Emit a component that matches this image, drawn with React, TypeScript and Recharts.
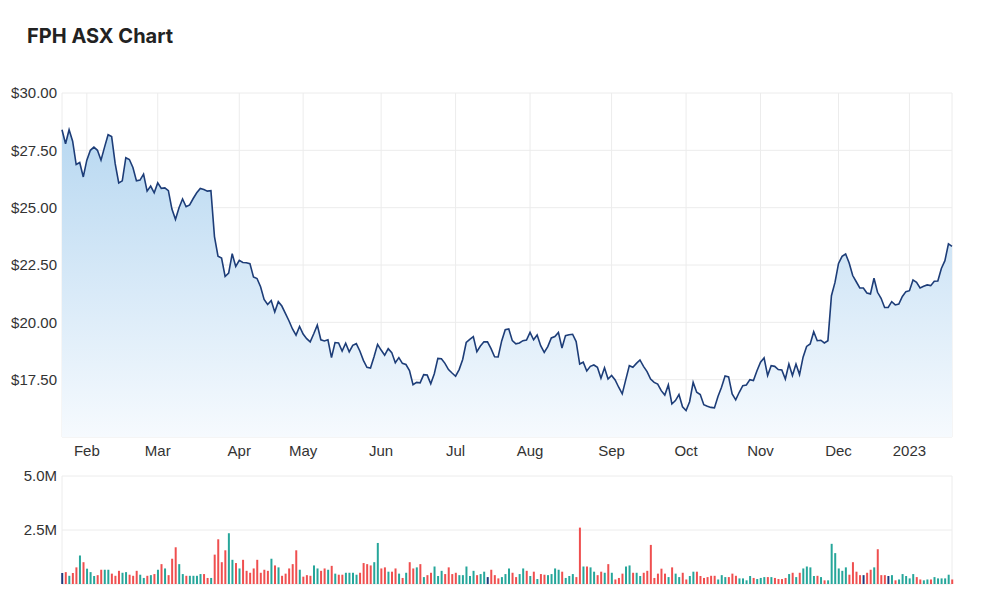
import { AreaChart, Area, BarChart, Bar, Cell, XAxis, YAxis, CartesianGrid } from 'recharts';

// FPH daily closes, 20 Jan 2022 - 19 Jan 2023 (one value per trading day)
const closes = [
  28.40, 27.79, 28.40, 27.90, 26.88, 26.97, 26.34, 27.07, 27.50, 27.64,
  27.50, 27.07, 27.64, 28.18, 28.10, 26.92, 26.08, 26.17, 27.18, 27.10,
  26.75, 26.17, 26.20, 26.46, 25.72, 25.94, 25.65, 26.08, 25.84, 25.86,
  25.74, 24.94, 24.49, 25.00, 25.38, 25.04, 25.12, 25.40, 25.65, 25.84,
  25.79, 25.72, 25.74, 23.74, 22.88, 22.80, 22.00, 22.15, 22.99, 22.44,
  22.70, 22.61, 22.60, 22.56, 21.98, 21.91, 21.55, 21.00, 20.78, 20.95,
  20.45, 20.90, 20.71, 20.39, 20.07, 19.71, 19.44, 19.82, 19.49, 19.29,
  19.15, 19.50, 19.88, 19.24, 19.19, 19.24, 18.46, 19.12, 19.10, 18.75,
  19.09, 18.71, 19.00, 19.07, 18.75, 18.34, 18.04, 18.01, 18.50, 19.04,
  18.79, 18.57, 18.85, 18.68, 18.24, 18.46, 18.21, 18.16, 17.90, 17.28,
  17.38, 17.36, 17.72, 17.70, 17.32, 17.76, 18.43, 18.41, 18.21, 17.94,
  17.79, 17.65, 17.94, 18.38, 19.12, 19.26, 19.38, 18.72, 18.97, 19.15,
  19.15, 18.85, 18.50, 18.49, 19.19, 19.68, 19.71, 19.20, 19.06, 19.10,
  19.20, 19.23, 19.56, 19.24, 19.45, 18.98, 18.69, 18.94, 19.32, 19.38,
  19.56, 18.88, 19.42, 19.46, 19.48, 19.16, 18.18, 18.26, 17.88, 18.08,
  18.14, 18.04, 17.56, 18.02, 17.53, 17.68, 17.49, 17.17, 16.88, 17.50,
  18.11, 18.04, 18.21, 18.36, 18.08, 17.85, 17.53, 17.38, 17.31, 17.02,
  16.83, 17.27, 16.44, 16.59, 16.85, 16.32, 16.15, 16.54, 17.38, 16.95,
  16.85, 16.41, 16.34, 16.29, 16.27, 16.77, 17.17, 17.66, 17.62, 16.88,
  16.62, 16.95, 17.24, 17.27, 17.50, 17.46, 17.89, 18.26, 18.45, 17.68,
  18.11, 18.08, 17.94, 17.92, 17.53, 18.18, 17.68, 18.18, 17.72, 18.48,
  18.95, 19.06, 19.59, 19.20, 19.22, 19.10, 19.20, 21.16, 21.74, 22.57,
  22.88, 22.98, 22.59, 22.04, 21.77, 21.50, 21.50, 21.28, 21.24, 21.92,
  21.31, 21.05, 20.65, 20.65, 20.90, 20.76, 20.80, 21.13, 21.34, 21.38,
  21.85, 21.74, 21.50, 21.57, 21.63, 21.60, 21.79, 21.80, 22.35, 22.69,
  23.42, 23.31,
];

// daily volume, millions of shares
const volumesM = [
  0.51, 0.55, 0.38, 0.51, 0.77, 1.32, 1.01, 0.71, 0.55, 0.37,
  0.41, 0.66, 0.66, 0.66, 0.48, 0.38, 0.61, 0.52, 0.55, 0.43,
  0.38, 0.61, 0.43, 0.28, 0.38, 0.41, 0.46, 0.66, 0.92, 0.72,
  0.41, 1.17, 1.70, 0.92, 0.46, 0.38, 0.38, 0.38, 0.38, 0.46,
  0.46, 0.28, 0.28, 1.36, 2.07, 1.01, 1.56, 2.35, 1.12, 0.97,
  0.72, 1.12, 0.61, 0.52, 0.72, 1.12, 0.52, 0.66, 0.61, 1.17,
  0.86, 0.77, 0.38, 0.48, 0.72, 0.92, 1.56, 0.66, 0.34, 0.41,
  0.38, 0.86, 0.72, 0.61, 0.72, 0.66, 0.84, 0.48, 0.43, 0.43,
  0.52, 0.52, 0.52, 0.43, 0.52, 0.97, 0.92, 0.86, 1.01, 1.90,
  0.72, 0.77, 0.57, 0.57, 0.72, 0.48, 0.28, 0.52, 1.01, 0.72,
  0.77, 0.92, 0.32, 0.41, 0.52, 0.81, 0.37, 0.61, 0.46, 0.77,
  0.46, 0.52, 0.41, 0.41, 0.81, 0.37, 0.61, 0.41, 0.46, 0.57,
  0.32, 0.66, 0.41, 0.26, 0.32, 0.46, 0.72, 0.52, 0.32, 0.46,
  0.72, 0.61, 0.37, 0.57, 0.23, 0.46, 0.43, 0.41, 0.46, 0.72,
  0.66, 0.57, 0.28, 0.37, 0.46, 0.32, 2.61, 0.81, 0.81, 0.77,
  0.57, 0.41, 0.57, 0.52, 0.92, 0.52, 0.21, 0.28, 0.48, 0.81,
  0.86, 0.52, 0.52, 0.37, 0.52, 0.61, 1.81, 0.28, 0.48, 0.71,
  0.48, 0.32, 0.77, 0.48, 0.32, 0.52, 0.21, 0.37, 0.57, 0.57,
  0.37, 0.28, 0.32, 0.38, 0.38, 0.21, 0.41, 0.32, 0.32, 0.48,
  0.38, 0.26, 0.26, 0.17, 0.37, 0.28, 0.23, 0.28, 0.32, 0.32,
  0.32, 0.28, 0.23, 0.23, 0.28, 0.46, 0.52, 0.32, 0.52, 0.72,
  0.81, 0.77, 0.37, 0.38, 0.32, 0.17, 0.17, 1.86, 1.43, 0.72,
  0.61, 0.77, 0.43, 1.01, 0.57, 0.41, 0.41, 0.52, 0.66, 0.77,
  1.61, 0.41, 0.41, 0.37, 0.41, 0.17, 0.21, 0.46, 0.37, 0.26,
  0.46, 0.32, 0.21, 0.17, 0.21, 0.21, 0.32, 0.26, 0.26, 0.26,
  0.43, 0.21,
];

// U = closed up, D = closed down, F = unchanged
const dayMoves = (
  'FDUDDUDUUU' + 'DDUUDDDUUD' + 'DDUUDUDUDU' + 'DDDUUDUUUU' + 'DDUDDDDUUD' +
  'UDDDDDDDDU' + 'DUDDDDDUDD' + 'DUUDDUDUDD' + 'UUUUDDDDUU' + 'DDUDDUDUDD' +
  'UDUDDUUUDD' + 'DDUUUUUDUU' + 'FDDDUUUDDU' + 'UDUDUDDUUU' + 'UDUUUDDUDU' +
  'UDDUDUDDDU' + 'UDUUDDDDDD' + 'DUDUUDDUUD' + 'DDDDDUUUDD' + 'DUUUUDUUUD' +
  'UDDDDUDUDU' + 'UUUDUDUUUU' + 'UUDDDDFDDU' + 'DDDFUDUUUU' + 'UDDUUDUUUU' +
  'UD'
).split('');

const monthStarts = [7, 27, 50, 68, 90, 111, 132, 155, 176, 197, 219, 239];
const monthLabels = ['Feb', 'Mar', 'Apr', 'May', 'Jun', 'Jul', 'Aug', 'Sep', 'Oct', 'Nov', 'Dec', '2023'];
const priceTicks = [15, 17.5, 20, 22.5, 25, 27.5, 30];
const volumeTicks = [2500000, 5000000];

const lastIdx = closes.length - 1;
const xTicks = [0, ...monthStarts, lastIdx];
const moveColor: Record<string, string> = { U: '#26a69a', D: '#ef4f4f', F: '#1d3a7c' };

const priceData = closes.map((close, i) => ({ i, close }));
const volumeData = volumesM.map((v, i) => ({ i, volume: v * 1e6, move: dayMoves[i] }));

const tickStyle = { fill: '#333', fontSize: 15, fontFamily: 'Liberation Sans, Arial, sans-serif' };
const gridColor = '#ececec';

const monthLabel = (v: number) => {
  const k = monthStarts.indexOf(v);
  return k >= 0 ? monthLabels[k] : '';
};

export default function App() {
  return (
    <div style={{ position: 'absolute', left: 0, top: 0, width: 1000, height: 602, background: '#fff' }}>
      <div
        style={{
          position: 'absolute',
          left: 27,
          top: 24,
          fontFamily: 'Inter, sans-serif',
          fontWeight: 700,
          fontSize: 20,
          lineHeight: '24px',
          color: '#222',
        }}
      >
        FPH ASX Chart
      </div>

      <div style={{ position: 'absolute', left: 0, top: 0 }}>
        <AreaChart width={1000} height={470} data={priceData} margin={{ top: 93, right: 48, bottom: 0, left: 0 }}>
          <defs>
            <linearGradient id="priceFill" x1="0" y1="0" x2="0" y2="1">
              <stop offset="0%" stopColor="#b8d8f1" stopOpacity={1} />
              <stop offset="100%" stopColor="#f6fafe" stopOpacity={1} />
            </linearGradient>
          </defs>
          <CartesianGrid stroke={gridColor} />
          <XAxis
            dataKey="i"
            type="number"
            domain={[0, lastIdx]}
            ticks={xTicks}
            interval={0}
            tickFormatter={monthLabel}
            axisLine={false}
            tickLine={false}
            tick={tickStyle}
            height={33}
          />
          <YAxis
            domain={[15, 30]}
            ticks={priceTicks}
            interval={0}
            tickFormatter={(v: number) => (v === 15 ? '' : `$${v.toFixed(2)}`)}
            axisLine={false}
            tickLine={false}
            tickSize={4}
            tickMargin={1}
            tick={tickStyle}
            width={62}
          />
          <Area
            type="linear"
            dataKey="close"
            stroke="#1d3d78"
            strokeWidth={1.6}
            fill="url(#priceFill)"
            fillOpacity={1}
            isAnimationActive={false}
            dot={false}
            activeDot={false}
          />
        </AreaChart>
      </div>

      <div style={{ position: 'absolute', left: 0, top: 460 }}>
        <BarChart width={1000} height={142} data={volumeData} margin={{ top: 16, right: 48, bottom: 0, left: 0 }}>
          <CartesianGrid stroke={gridColor} />
          <XAxis
            dataKey="i"
            type="number"
            domain={[0, lastIdx]}
            ticks={xTicks}
            interval={0}
            tick={false}
            axisLine={false}
            tickLine={false}
            height={18}
          />
          <YAxis
            domain={[0, 5000000]}
            ticks={volumeTicks}
            interval={0}
            tickFormatter={(v: number) => `${(v / 1e6).toFixed(1)}M`}
            axisLine={false}
            tickLine={false}
            tickSize={4}
            tickMargin={1}
            tick={tickStyle}
            width={62}
          />
          <Bar dataKey="volume" barSize={2} isAnimationActive={false}>
            {volumeData.map((d) => (
              <Cell key={d.i} fill={moveColor[d.move]} />
            ))}
          </Bar>
        </BarChart>
      </div>
    </div>
  );
}
